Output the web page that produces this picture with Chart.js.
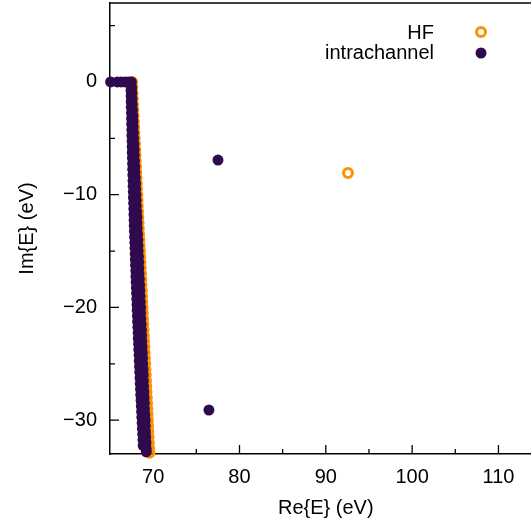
<!DOCTYPE html>
<html><head><meta charset="utf-8">
<script src="https://cdn.jsdelivr.net/npm/chart.js@4/dist/chart.umd.min.js"></script>
<style>
html,body{margin:0;padding:0;overflow:hidden;background:#fff;width:531px;height:527px}
#wrap{position:absolute;left:0;top:0;width:560px;height:527px}
</style>
</head><body><div id="wrap"><canvas id="c" width="560" height="527"></canvas></div>
<script>
const seriesNames = ['HF', 'intrachannel'];

// HF eigenvalues (Re, Im) in eV
const hfRe = [67.55,67.58,67.61,67.64,67.67,67.70,67.73,67.76,67.79,67.82,67.86,67.89,67.92,67.95,67.98,68.01,68.04,68.07,68.10,68.13,68.16,68.19,68.22,68.25,68.28,68.31,68.34,68.37,68.40,68.43,68.47,68.50,68.53,68.56,68.59,68.62,68.65,68.68,68.71,68.74,68.77,68.80,68.83,68.86,68.89,68.92,68.95,68.98,69.01,69.04,69.08,69.11,69.14,69.17,69.20,69.23,69.26,69.29,69.32,69.35,69.38,69.41,69.44,69.47,69.50,69.53,69.56,
  92.57];
const hfIm = [0,-0.5,-1,-1.5,-2,-2.5,-3,-3.5,-4,-4.5,-5,-5.5,-6,-6.5,-7,-7.5,-8,-8.5,-9,-9.5,-10,-10.5,-11,-11.5,-12,-12.5,-13,-13.5,-14,-14.5,-15,-15.5,-16,-16.5,-17,-17.5,-18,-18.5,-19,-19.5,-20,-20.5,-21,-21.5,-22,-22.5,-23,-23.5,-24,-24.5,-25,-25.5,-26,-26.5,-27,-27.5,-28,-28.5,-29,-29.5,-30,-30.5,-31,-31.5,-32,-32.5,-32.9,
  -8.08];

// intrachannel eigenvalues (Re, Im) in eV
const intraRe = [65.07,65.85,66.30,66.75,67.10,
  67.47,67.50,67.53,67.55,67.57,67.61,67.64,67.66,67.68,67.71,67.73,67.77,67.80,67.81,67.84,67.87,67.88,67.92,67.96,67.97,68.00,68.03,68.04,68.08,68.12,68.13,68.15,68.19,68.22,68.24,68.26,68.30,68.33,68.34,68.36,68.40,68.43,68.45,68.47,68.51,68.54,68.55,68.57,68.61,68.65,68.66,68.68,68.72,68.75,68.77,68.79,68.83,68.86,68.87,68.89,68.93,68.96,68.98,69.00,69.04,69.07,69.08,69.10,69.14,69.17,69.18,69.20,
  67.43,67.44,67.45,67.46,67.47,67.49,67.50,67.51,67.53,67.54,67.56,67.57,67.58,67.60,67.62,67.63,67.65,67.67,67.68,67.70,67.72,67.74,67.76,67.78,67.79,67.81,67.83,67.85,67.88,67.90,67.92,67.94,67.96,67.99,68.01,68.03,68.06,68.08,68.10,68.13,68.15,68.18,68.20,68.23,68.26,68.28,68.31,68.34,68.37,68.39,68.42,68.45,68.48,68.51,68.54,68.56,68.60,68.63,68.66,68.69,68.72,68.75,68.79,68.82,68.85,
  77.51,76.46];
const intraIm = [0,0,0,0,0,
  0,-0.5,-1,-1.5,-2,-2.5,-3,-3.5,-4,-4.5,-5,-5.5,-6,-6.5,-7,-7.5,-8,-8.5,-9,-9.5,-10,-10.5,-11,-11.5,-12,-12.5,-13,-13.5,-14,-14.5,-15,-15.5,-16,-16.5,-17,-17.5,-18,-18.5,-19,-19.5,-20,-20.5,-21,-21.5,-22,-22.5,-23,-23.5,-24,-24.5,-25,-25.5,-26,-26.5,-27,-27.5,-28,-28.5,-29,-29.5,-30,-30.5,-31,-31.5,-32,-32.5,-32.8,
  -0.25,-0.75,-1.25,-1.75,-2.25,-2.75,-3.25,-3.75,-4.25,-4.75,-5.25,-5.75,-6.25,-6.75,-7.25,-7.75,-8.25,-8.75,-9.25,-9.75,-10.25,-10.75,-11.25,-11.75,-12.25,-12.75,-13.25,-13.75,-14.25,-14.75,-15.25,-15.75,-16.25,-16.75,-17.25,-17.75,-18.25,-18.75,-19.25,-19.75,-20.25,-20.75,-21.25,-21.75,-22.25,-22.75,-23.25,-23.75,-24.25,-24.75,-25.25,-25.75,-26.25,-26.75,-27.25,-27.75,-28.25,-28.75,-29.25,-29.75,-30.25,-30.75,-31.25,-31.75,-32.25,
  -6.93,-29.1];

const xTicks = [70, 80, 90, 100, 110];
const xMinorTicks = [75, 85, 95, 105];
const yTicks = [0, -10, -20, -30];
const yMinorTicks = [5, -5, -15, -25];
const xTitle = 'Re{E} (eV)';
const yTitle = 'Im{E} (eV)';

const PURPLE = '#2f0a4e';
const ORANGE = '#ff9000';
const FAMILY = '"Liberation Sans", Arial, Helvetica, sans-serif';
const FONT = {family: FAMILY, size: 20};

const toPts = (re, im) => re.map((x, i) => ({x: x, y: im[i]}));
const zeroPad = s => { s.paddingTop = 0; s.paddingBottom = 0; s.paddingLeft = 0; s.paddingRight = 0; };

const frame = {
  id: 'frame',
  beforeDatasetsDraw(chart) {
    const {ctx, chartArea: a, scales: {x, y}} = chart;
    ctx.save();
    ctx.strokeStyle = '#000';
    ctx.lineWidth = 1.3;
    ctx.beginPath();
    xTicks.forEach(v => { const p = x.getPixelForValue(v); ctx.moveTo(p, a.bottom); ctx.lineTo(p, a.bottom - 9); });
    xMinorTicks.forEach(v => { const p = x.getPixelForValue(v); ctx.moveTo(p, a.bottom); ctx.lineTo(p, a.bottom - 5); });
    yTicks.forEach(v => { const p = y.getPixelForValue(v); ctx.moveTo(a.left, p); ctx.lineTo(a.left + 9, p); });
    yMinorTicks.forEach(v => { const p = y.getPixelForValue(v); ctx.moveTo(a.left, p); ctx.lineTo(a.left + 5, p); });
    ctx.stroke();
    ctx.lineWidth = 1.5;
    ctx.beginPath();
    ctx.moveTo(a.left, a.top); ctx.lineTo(a.right + 5, a.top);
    ctx.stroke();
    ctx.restore();
  },
  afterDatasetsDraw(chart) {
    const ctx = chart.ctx;
    ctx.save();
    ctx.font = '20px ' + FAMILY;
    ctx.fillStyle = '#000';
    ctx.textAlign = 'right';
    ctx.textBaseline = 'middle';
    ctx.fillText(seriesNames[0], 434, 33);
    ctx.fillText(seriesNames[1], 434, 53);
    ctx.beginPath();
    ctx.arc(481, 32, 4.5, 0, Math.PI * 2);
    ctx.strokeStyle = ORANGE; ctx.lineWidth = 3; ctx.stroke();
    ctx.beginPath();
    ctx.arc(481, 53, 5.5, 0, Math.PI * 2);
    ctx.fillStyle = PURPLE; ctx.fill();
    ctx.restore();
  }
};

new Chart(document.getElementById('c').getContext('2d'), {
  type: 'scatter',
  data: {
    datasets: [
      {label: seriesNames[1], data: toPts(intraRe, intraIm), order: 0, clip: false,
       pointRadius: 5.5, pointHoverRadius: 5.5, pointBackgroundColor: PURPLE, pointBorderWidth: 0, borderColor: PURPLE},
      {label: seriesNames[0], data: toPts(hfRe, hfIm), order: 1, clip: false,
       pointRadius: 4.5, pointHoverRadius: 4.5, pointBackgroundColor: 'rgba(0,0,0,0)', pointBorderColor: ORANGE, pointBorderWidth: 3, borderColor: ORANGE}
    ]
  },
  options: {
    responsive: false, animation: false, devicePixelRatio: 1, events: [],
    layout: {autoPadding: false, padding: {top: 3, right: 18.4, left: 0, bottom: 0}},
    plugins: {legend: {display: false}, tooltip: {enabled: false}},
    scales: {
      x: {
        type: 'linear', min: 65, max: 115,
        afterBuildTicks: s => { s.ticks = xTicks.map(v => ({value: v})); },
        afterFit: s => { s.height = 73; zeroPad(s); },
        grid: {display: false, drawTicks: false},
        border: {display: true, color: '#000', width: 1.5},
        ticks: {font: FONT, color: '#000', padding: 11, maxRotation: 0, autoSkip: false},
        title: {display: true, text: xTitle, font: FONT, color: '#000', padding: {top: 0, bottom: 7}}
      },
      y: {
        type: 'linear', min: -33, max: 7,
        afterBuildTicks: s => { s.ticks = yTicks.map(v => ({value: v})); },
        afterFit: s => { s.width = 110; zeroPad(s); },
        grid: {display: false, drawTicks: false},
        border: {display: true, color: '#000', width: 1.5},
        ticks: {font: FONT, color: '#000', padding: 13, autoSkip: false,
                callback: v => String(v).replace('-', '\u2212')},
        title: {display: true, text: yTitle, font: FONT, color: '#000', padding: {top: 15, bottom: 0}}
      }
    }
  },
  plugins: [frame]
});
</script>
</body></html>
